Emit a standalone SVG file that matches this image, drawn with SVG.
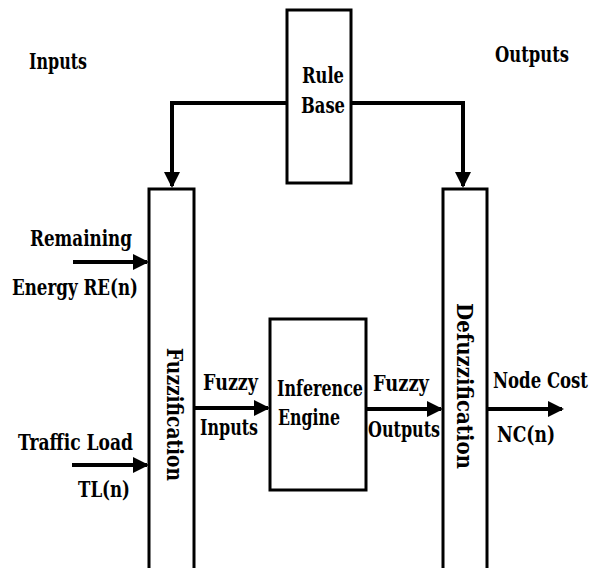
<svg xmlns="http://www.w3.org/2000/svg" width="597" height="568" viewBox="0 0 597 568">
<style>
.box{fill:#fff;stroke:#000;stroke-width:3}
.ln{fill:none;stroke:#000;stroke-width:4}
.t{font-family:"DejaVu Serif","Liberation Serif",serif;font-weight:bold;font-size:22px;fill:#000}
</style>
<defs>
<marker id="ah" markerWidth="4" markerHeight="4" refX="3.5" refY="2" orient="auto" markerUnits="strokeWidth">
<path d="M0,0 L4,2 L0,4 Z" fill="#000"/>
</marker>
</defs>
<rect width="597" height="568" fill="#fff"/>
<g>
<text class="t" x="29" y="69" textLength="58" lengthAdjust="spacingAndGlyphs">Inputs</text>
<text class="t" x="495" y="62" textLength="74" lengthAdjust="spacingAndGlyphs">Outputs</text>
</g>
<g id="rulebase">
<rect class="box" x="287" y="10" width="64" height="173"/>
<text class="t" x="302" y="83" textLength="42" lengthAdjust="spacingAndGlyphs">Rule</text>
<text class="t" x="301" y="113" textLength="44" lengthAdjust="spacingAndGlyphs">Base</text>
</g>
<g id="fuzzification">
<rect class="box" x="149" y="189" width="45" height="381"/>
<text class="t" transform="translate(167,348) rotate(90)" textLength="133" lengthAdjust="spacingAndGlyphs">Fuzzification</text>
</g>
<g id="inference">
<rect class="box" x="270" y="319" width="96" height="171"/>
<text class="t" x="277" y="396" textLength="86" lengthAdjust="spacingAndGlyphs">Inference</text>
<text class="t" x="278" y="425" textLength="62" lengthAdjust="spacingAndGlyphs">Engine</text>
</g>
<g id="defuzzification">
<rect class="box" x="443" y="189" width="44" height="381"/>
<text class="t" transform="translate(457,303) rotate(90)" textLength="166" lengthAdjust="spacingAndGlyphs">Defuzzification</text>
</g>
<g id="connectors">
<path class="ln" d="M287,103 H172 V186" marker-end="url(#ah)"/>
<path class="ln" d="M351,103 H463 V186" marker-end="url(#ah)"/>
<line class="ln" x1="73" y1="262" x2="147" y2="262" marker-end="url(#ah)"/>
<line class="ln" x1="72" y1="465" x2="147" y2="465" marker-end="url(#ah)"/>
<line class="ln" x1="195" y1="408" x2="268" y2="408" marker-end="url(#ah)"/>
<line class="ln" x1="367" y1="409" x2="441" y2="409" marker-end="url(#ah)"/>
<line class="ln" x1="488" y1="409" x2="562" y2="409" marker-end="url(#ah)"/>
</g>
<g id="labels">
<text class="t" x="30" y="246" textLength="102" lengthAdjust="spacingAndGlyphs">Remaining</text>
<text class="t" x="12" y="295" textLength="126" lengthAdjust="spacingAndGlyphs">Energy RE(n)</text>
<text class="t" x="18" y="450" textLength="115" lengthAdjust="spacingAndGlyphs">Traffic Load</text>
<text class="t" x="78" y="497" textLength="52" lengthAdjust="spacingAndGlyphs">TL(n)</text>
<text class="t" x="203" y="390" textLength="55" lengthAdjust="spacingAndGlyphs">Fuzzy</text>
<text class="t" x="200" y="435" textLength="58" lengthAdjust="spacingAndGlyphs">Inputs</text>
<text class="t" x="373" y="391" textLength="56" lengthAdjust="spacingAndGlyphs">Fuzzy</text>
<text class="t" x="368" y="437" textLength="72" lengthAdjust="spacingAndGlyphs">Outputs</text>
<text class="t" x="493" y="388" textLength="95" lengthAdjust="spacingAndGlyphs">Node Cost</text>
<text class="t" x="497" y="442" textLength="58" lengthAdjust="spacingAndGlyphs">NC(n)</text>
</g>
</svg>
